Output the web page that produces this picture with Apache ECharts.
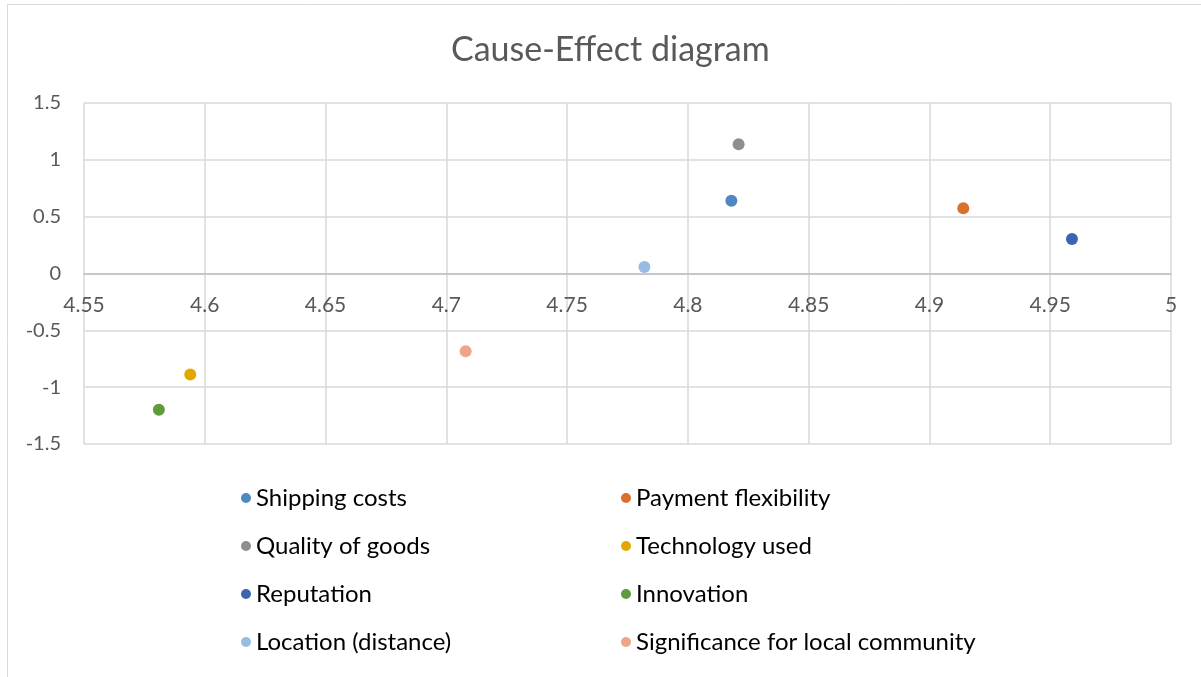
<!DOCTYPE html>
<html>
<head>
<meta charset="utf-8">
<script src="https://cdn.jsdelivr.net/npm/echarts@6/dist/echarts.min.js"></script>
<style>
  html, body { margin: 0; padding: 0; background: #fff; }
  #main { width: 1201px; height: 677px; }
</style>
</head>
<body>
<div id="main"></div>
<script>
// factors, in legend order
var names = ['Shipping costs', 'Payment flexibility', 'Quality of goods', 'Technology used',
             'Reputation', 'Innovation', 'Location (distance)', 'Significance for local community'];
// x values (D+R)
var xVals = [4.818, 4.914, 4.821, 4.594, 4.959, 4.581, 4.782, 4.708];
// y values (D-R)
var yVals = [0.641, 0.574, 1.138, -0.889, 0.303, -1.198, 0.058, -0.683];
var colors = ['#4e88c0', '#d9702b', '#8f8f8f', '#e3a800', '#3c65b0', '#5f9b3d', '#98bbe3', '#f0a488'];

var font = 'Lato, "Open Sans", sans-serif';

var series = [];
for (var i = 0; i < names.length; i++) {
  series.push({
    name: names[i],
    type: 'scatter',
    symbolSize: 12,
    itemStyle: { color: colors[i], opacity: 1 },
    data: [[xVals[i], yVals[i]]]
  });
}

var legendBase = {
  orient: 'vertical',
  top: 481,
  icon: 'circle',
  itemWidth: 10,
  itemHeight: 10,
  itemGap: 24,
  textStyle: { fontSize: 24, color: '#000', fontFamily: font }
};

var myChart = echarts.init(document.getElementById('main'));
var option = {
  animation: false,
  title: {
    text: 'Cause-Effect diagram',
    left: 446,
    top: 28,
    textStyle: { fontSize: 34, fontWeight: 'normal', color: '#595959', fontFamily: font }
  },
  graphic: [{
    type: 'rect',
    shape: { x: 7.5, y: 4.5, width: 1400, height: 1000 },
    style: { fill: 'none', stroke: '#d9d9d9', lineWidth: 1 }
  }],
  grid: { left: 84, right: 30, top: 103, bottom: 233 },
  xAxis: {
    type: 'value',
    min: 4.55,
    max: 5,
    interval: 0.05,
    offset: -170.5,   // axis sits on y = 0, like Excel
    axisLine: { onZero: false, lineStyle: { color: '#bfbfbf', width: 1.5 } },
    axisTick: { show: false },
    axisLabel: { margin: 21, fontSize: 21, color: '#595959', fontFamily: font },
    splitLine: { show: true, lineStyle: { color: '#d9d9d9', width: 1.5 } }
  },
  yAxis: {
    type: 'value',
    min: -1.5,
    max: 1.5,
    interval: 0.5,
    axisLine: { show: false },
    axisTick: { show: false },
    axisLabel: { margin: 23, fontSize: 20, color: '#595959', fontFamily: font },
    splitLine: { show: true, lineStyle: { color: '#d9d9d9', width: 1.5 } }
  },
  legend: [
    Object.assign({}, legendBase, { left: 236, data: [names[0], names[2], names[4], names[6]] }),
    Object.assign({}, legendBase, { left: 616, data: [names[1], names[3], names[5], names[7]] })
  ],
  series: series
};
myChart.setOption(option);
</script>
</body>
</html>
